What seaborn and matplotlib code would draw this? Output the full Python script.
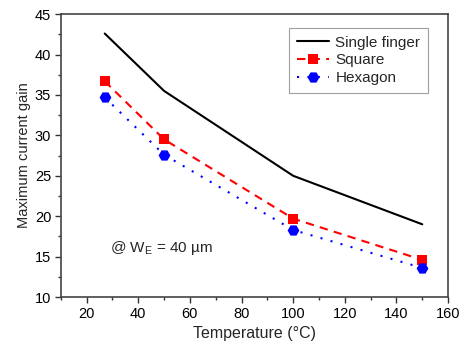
import matplotlib
matplotlib.use("Agg")
import matplotlib.pyplot as plt
from matplotlib.ticker import MultipleLocator
import seaborn as sns
import pandas as pd

# Maximum current gain versus temperature for three emitter layouts
temperature = [27, 50, 100, 150]
single_finger = [42.6, 35.5, 25.0, 19.0]
square = [36.7, 29.5, 19.7, 14.6]
hexagon = [34.7, 27.6, 18.3, 13.6]
series_names = ["Single finger", "Square", "Hexagon"]

df = pd.DataFrame({
    "Temperature": temperature * 3,
    "Gain": single_finger + square + hexagon,
    "Layout": [series_names[0]] * 4 + [series_names[1]] * 4 + [series_names[2]] * 4,
})

sns.set_theme(style="white")
plt.rcParams["font.family"] = ["Liberation Sans", "DejaVu Sans"]
plt.rcParams["mathtext.fontset"] = "custom"
plt.rcParams["mathtext.rm"] = "Liberation Sans"

fig = plt.figure(figsize=(4.61, 3.45), dpi=100)
ax = fig.add_axes([0.132, 0.139, 0.840, 0.820])

palette = {"Single finger": "black", "Square": "#ff0000", "Hexagon": "#0000ff"}
dashes = {"Single finger": "", "Square": (4, 3), "Hexagon": (1, 4)}
markers = {"Single finger": "", "Square": "s", "Hexagon": "H"}

for name in series_names:
    sub = df[df["Layout"] == name]
    sns.lineplot(
        data=sub, x="Temperature", y="Gain", ax=ax,
        color=palette[name], linewidth=1.5,
        marker=markers[name] if markers[name] else None,
        markersize=8.5 if name == "Hexagon" else 7.5,
        markeredgewidth=0,
        label=name,
    )
for line, name in zip(ax.get_lines(), series_names):
    if dashes[name]:
        line.set_dashes(dashes[name])
    else:
        line.set_linestyle("-")

ax.set_xlim(10, 160)
ax.set_ylim(10, 45)
ax.xaxis.set_major_locator(MultipleLocator(20))
ax.xaxis.set_minor_locator(MultipleLocator(10))
ax.yaxis.set_major_locator(MultipleLocator(5))
ax.yaxis.set_minor_locator(MultipleLocator(2.5))
ax.set_xticks([20, 40, 60, 80, 100, 120, 140, 160])

ax.tick_params(axis="both", which="major", direction="out", length=4, width=1,
               color="#333333", labelsize=10.5, labelcolor="black", pad=3,
               bottom=True, left=True, top=False, right=False)
ax.tick_params(axis="both", which="minor", direction="out", length=2.5, width=1,
               color="#333333", bottom=True, left=True, top=False, right=False)

for sp in ax.spines.values():
    sp.set_color("#444444")
    sp.set_linewidth(1.2)

ax.set_xlabel("Temperature (°C)", fontsize=11.5, labelpad=4)
ax.set_ylabel("Maximum current gain", fontsize=10.5, labelpad=3)

ax.text(29, 16.1, r"@ W$_\mathregular{E}$ = 40 µm", fontsize=11,
        ha="left", va="center")

leg = ax.legend(loc="upper right", bbox_to_anchor=(0.948, 0.951),
                borderaxespad=0, fancybox=False, frameon=True, fontsize=11,
                handlelength=2.1, handletextpad=0.4, labelspacing=0.25,
                borderpad=0.5)
leg.get_frame().set_edgecolor("#888888")
leg.get_frame().set_linewidth(0.8)

fig.savefig("out.png", dpi=100)
